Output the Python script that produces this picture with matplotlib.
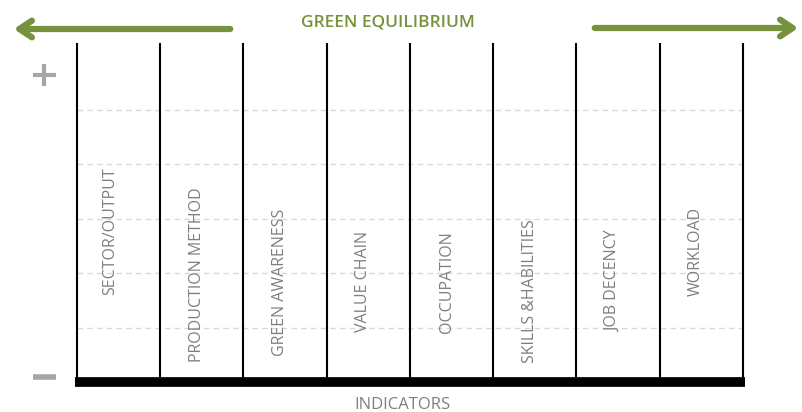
import matplotlib.pyplot as plt

# indicators along the horizontal axis
indicators = ['SECTOR/OUTPUT', 'PRODUCTION METHOD', 'GREEN AWARENESS', 'VALUE CHAIN',
              'OCCUPATION', 'SKILLS &HABILITIES', 'JOB DECENCY', 'WORKLOAD']
grid_levels = [1, 2, 3, 4, 5]
title = 'GREEN EQUILIBRIUM'
xlabel = 'INDICATORS'

# vertical centre of each rotated label (data units) and small x nudge
label_y = [2.77, 1.98, 1.83, 1.85, 1.83, 1.67, 1.85, 2.40]
label_dx = [-0.10, -0.06, -0.06, -0.06, -0.06, -0.06, -0.06, -0.07]

green = '#76923c'
grey_txt = '#7f7f7f'
grey_sign = '#a6a6a6'
fam = ['Liberation Sans Narrow', 'Open Sans', 'DejaVu Sans']

W, H = 803, 412
fig = plt.figure(figsize=(W / 100, H / 100), dpi=100)

# main panel
ax = fig.add_axes([77 / W, (H - 382) / H, 666 / W, 339 / H])
n = len(indicators)
ax.set_xlim(0, n)
ax.set_ylim(0, 6.23)
ax.axis('off')

for g in grid_levels:
    ax.axhline(g, color='#d9d9d9', lw=1, ls=(0, (4, 3)), zorder=1)
ax.vlines(range(n + 1), 0, 6.23, color='black', lw=1.5, zorder=2, clip_on=False)
ax.plot([-0.02, n + 0.02], [0, 0], color='black', lw=7, solid_capstyle='butt',
        clip_on=False, zorder=3)

for i, lab in enumerate(indicators):
    ax.text(i + 0.5 + label_dx[i], label_y[i], lab, rotation=90, ha='center', va='center',
            color=grey_txt, fontsize=11.5, family=fam)

# overlay in pixel coordinates for arrows, signs and titles
ov = fig.add_axes([0, 0, 1, 1], facecolor='none')
ov.set_xlim(0, W)
ov.set_ylim(H, 0)
ov.axis('off')

arrow = dict(arrowstyle='->,head_length=0.9,head_width=0.6', color=green, lw=4.5,
             capstyle='round', joinstyle='round')
ov.annotate('', xy=(11, 29), xytext=(233, 29), arrowprops=arrow)
ov.annotate('', xy=(801, 28), xytext=(592, 28), arrowprops=arrow)
ov.text(388, 22, title, ha='center', va='center', color=green, fontsize=12.5,
        family=fam, fontweight='semibold')
ov.text(402, 405, xlabel, ha='center', va='center', color=grey_txt, fontsize=12,
        family=fam)

# plus / minus signs on the left
ov.plot([33, 56], [75, 75], color=grey_sign, lw=3, solid_capstyle='butt')
ov.plot([44.5, 44.5], [64, 86], color=grey_sign, lw=3, solid_capstyle='butt')
ov.plot([33, 56], [377, 377], color=grey_sign, lw=4, solid_capstyle='butt')

fig.savefig('out.png', dpi=100)
